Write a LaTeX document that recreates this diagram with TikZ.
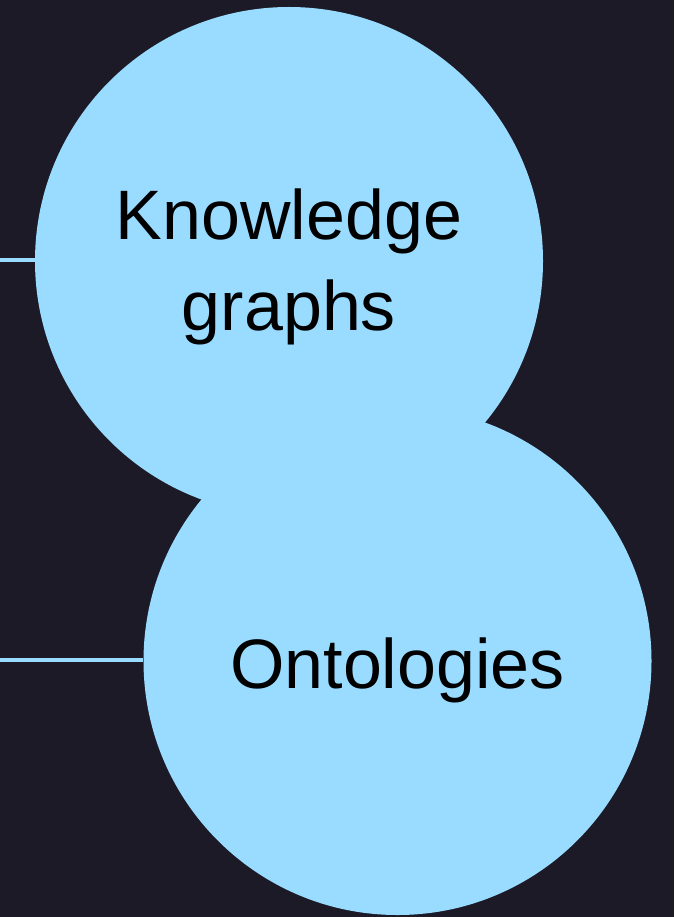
\documentclass[tikz,border=0pt]{standalone}
\usepackage{fontspec}
\setmainfont{Liberation Sans}
\definecolor{bg}{HTML}{1C1A26}
\definecolor{bubble}{HTML}{99DCFF}
\begin{document}
\begin{tikzpicture}[x=1pt,y=-1pt,
  bubblestyle/.style={circle,fill=bubble,draw=none,minimum size=508pt,inner sep=0pt},
  labelstyle/.style={anchor=base,text=black,font=\fontsize{70}{90}\selectfont,inner sep=0pt},
  linkstyle/.style={draw=bubble,line width=4pt}]
\fill[bg] (0,0) rectangle (674,917);
\useasboundingbox (0,0) rectangle (674,917);
\coordinate (s1) at (0,260);
\coordinate (s2) at (0,660);
\node[bubblestyle] (kg) at (289,261) {};
\node[bubblestyle] (ont) at (397.5,661) {};
\draw[linkstyle] (s1) -- (kg.west |- s1);
\draw[linkstyle] (s2) -- (ont.west |- s2);
\node[labelstyle] (t1) at (289,240) {Knowledge};
\node[labelstyle] (t2) at (289,330) {graphs};
\node[labelstyle] (t3) at (397.5,688) {Ontologies};
\end{tikzpicture}
\end{document}
